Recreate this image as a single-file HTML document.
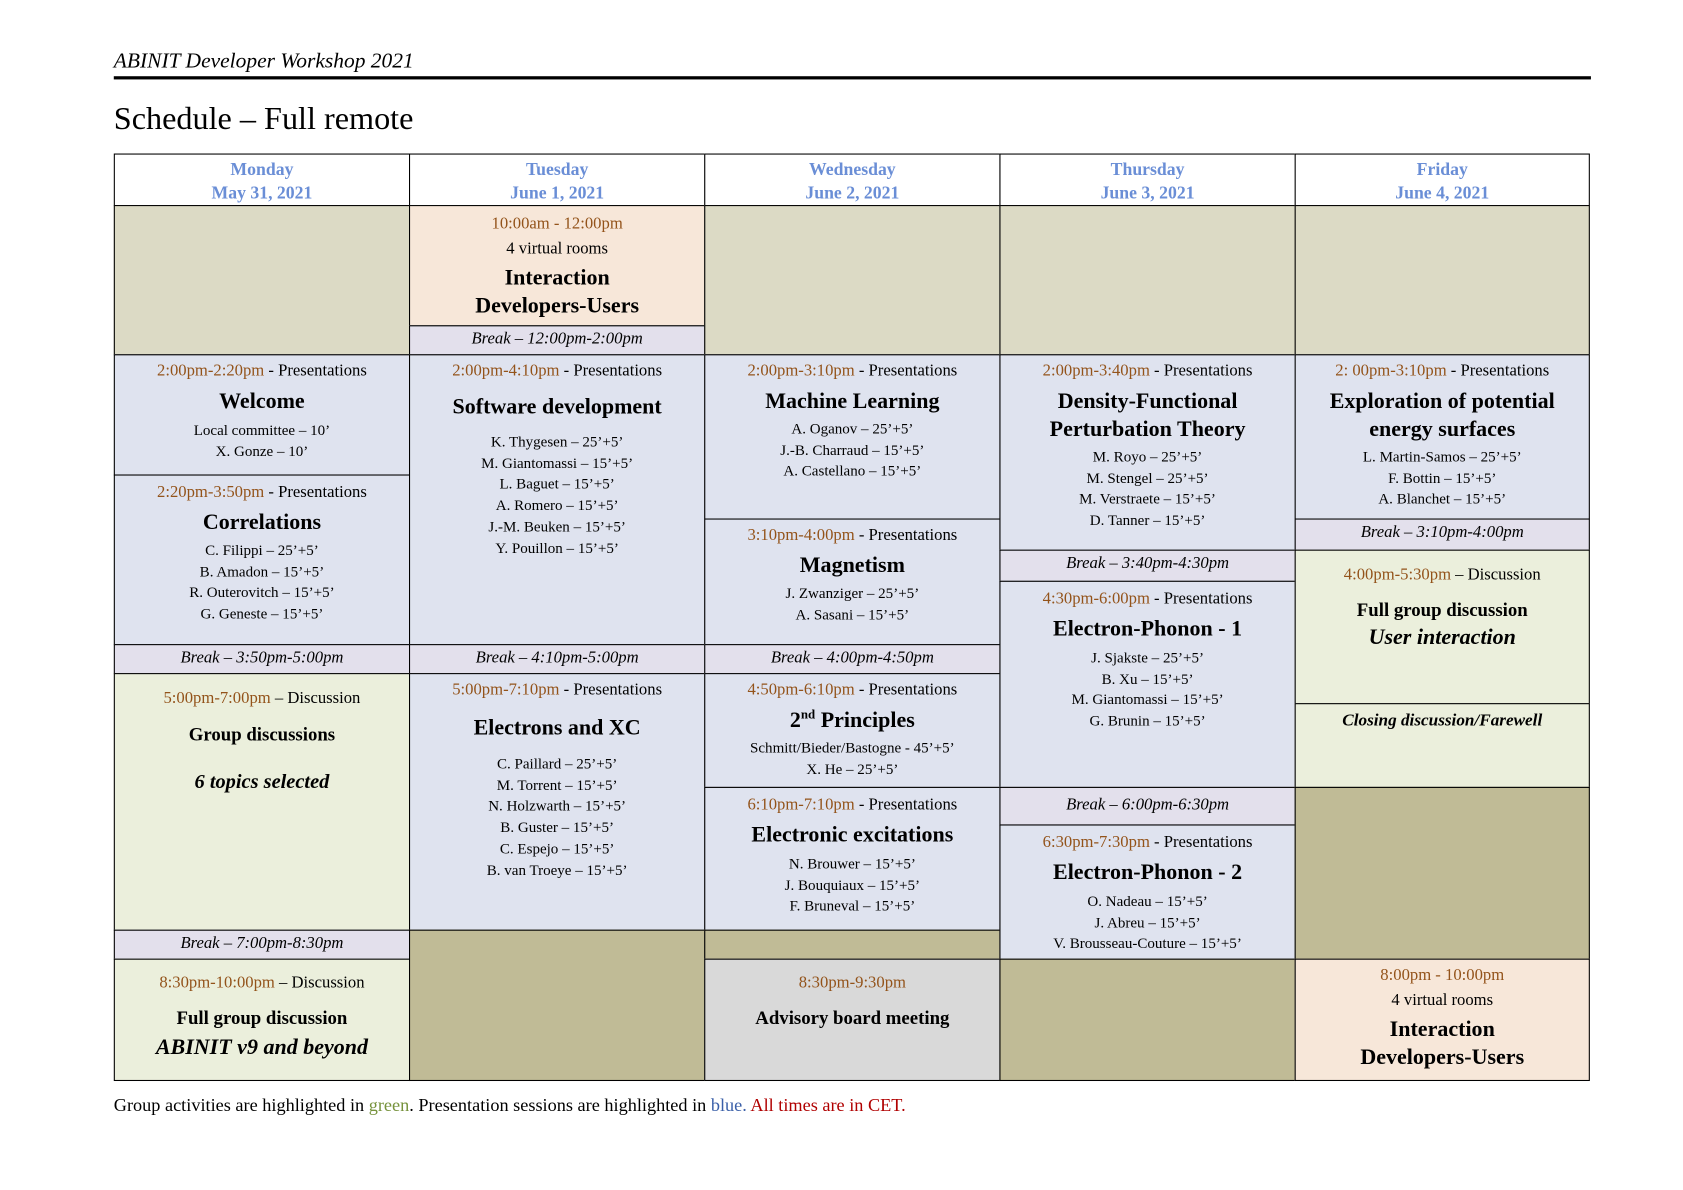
<!DOCTYPE html>
<html><head><meta charset="utf-8"><style>
html,body{margin:0;padding:0;background:#fff;}
body{width:1683px;height:1190px;overflow:hidden;position:relative;font-family:"Liberation Serif",serif;color:#000;}
#w{position:absolute;left:0;top:0;width:1560px;height:1103px;transform:scale(1.0735);transform-origin:0 0;}
.c{position:absolute;box-sizing:border-box;border:1.4px solid #000;text-align:center;overflow:hidden;}
.t{font-size:15.5px;line-height:20px;}
.tm{color:#93531a;}
.h{font-weight:bold;font-size:20.5px;line-height:26px;}
.n{font-size:14px;line-height:19.7px;}
.br{font-style:italic;font-size:15.5px;line-height:24px;background:#e3e0ec;}
.hd{color:#6a8ed6;font-weight:bold;font-size:16.5px;line-height:22px;padding-top:3px;background:#fff;}
.bei{background:#dcdac5}.ol{background:#c0bb96}.bl{background:#dfe3ef}.gr{background:#ebefdc}.pe{background:#f7e7d9}.gy{background:#d9d9d9}
</style></head><body><div id="w">
<div style="position:absolute;left:106px;top:46px;font-style:italic;font-size:20px;">ABINIT Developer Workshop 2021</div>
<div style="position:absolute;left:106px;top:71px;width:1376px;height:3px;background:#000"></div>
<div style="position:absolute;left:106px;top:94px;font-size:30px;">Schedule – Full remote</div>

<div class="c hd" style="left:106px;top:143px;width:276px;height:49px">Monday<br>May 31, 2021</div>
<div class="c hd" style="left:381px;top:143px;width:276px;height:49px">Tuesday<br>June 1, 2021</div>
<div class="c hd" style="left:656px;top:143px;width:276px;height:49px">Wednesday<br>June 2, 2021</div>
<div class="c hd" style="left:931px;top:143px;width:276px;height:49px">Thursday<br>June 3, 2021</div>
<div class="c hd" style="left:1206px;top:143px;width:275px;height:49px">Friday<br>June 4, 2021</div>

<div class="c bei" style="left:106px;top:191px;width:276px;height:140px"></div>
<div class="c bl" style="left:106px;top:330px;width:276px;height:113px;padding-top:5px"><div class="t"><span class="tm">2:00pm-2:20pm</span> - Presentations</div><div class="h" style="margin-top:5px">Welcome</div><div class="n" style="margin-top:5px">Local committee – 10’<br>X. Gonze – 10’</div></div>
<div class="c bl" style="left:106px;top:442px;width:276px;height:159px;padding-top:6px"><div class="t"><span class="tm">2:20pm-3:50pm</span> - Presentations</div><div class="h" style="margin-top:5px">Correlations</div><div class="n" style="margin-top:4px">C. Filippi – 25’+5’<br>B. Amadon – 15’+5’<br>R. Outerovitch – 15’+5’<br>G. Geneste – 15’+5’</div></div>
<div class="c br" style="left:106px;top:600px;width:276px;height:28px">Break – 3:50pm-5:00pm</div>
<div class="c gr" style="left:106px;top:627px;width:276px;height:240px;padding-top:13px"><div class="t"><span class="tm">5:00pm-7:00pm</span> – Discussion</div><div class="t" style="font-weight:bold;font-size:17.5px;margin-top:13px">Group discussions</div><div style="font-weight:bold;font-style:italic;font-size:19px;margin-top:24px">6 topics selected</div></div>
<div class="c br" style="left:106px;top:866px;width:276px;height:28px">Break – 7:00pm-8:30pm</div>
<div class="c gr" style="left:106px;top:893px;width:276px;height:114px;padding-top:12px"><div class="t"><span class="tm">8:30pm-10:00pm</span> – Discussion</div><div style="font-weight:bold;font-size:17.5px;margin-top:12px">Full group discussion</div><div style="font-weight:bold;font-style:italic;font-size:20.5px;margin-top:6px">ABINIT v9 and beyond</div></div>

<div class="c pe" style="left:381px;top:191px;width:276px;height:113px;padding-top:7px"><div class="t tm">10:00am - 12:00pm</div><div class="t" style="margin-top:3px">4 virtual rooms</div><div class="h" style="margin-top:4px">Interaction<br>Developers-Users</div></div>
<div class="c br" style="left:381px;top:303px;width:276px;height:28px">Break – 12:00pm-2:00pm</div>
<div class="c bl" style="left:381px;top:330px;width:276px;height:271px;padding-top:5px"><div class="t"><span class="tm">2:00pm-4:10pm</span> - Presentations</div><div class="h" style="margin-top:10px">Software development</div><div class="n" style="margin-top:11px">K. Thygesen – 25’+5’<br>M. Giantomassi – 15’+5’<br>L. Baguet – 15’+5’<br>A. Romero – 15’+5’<br>J.-M. Beuken – 15’+5’<br>Y. Pouillon – 15’+5’</div></div>
<div class="c br" style="left:381px;top:600px;width:276px;height:28px">Break – 4:10pm-5:00pm</div>
<div class="c bl" style="left:381px;top:627px;width:276px;height:240px;padding-top:5px"><div class="t"><span class="tm">5:00pm-7:10pm</span> - Presentations</div><div class="h" style="margin-top:12px">Electrons and XC</div><div class="n" style="margin-top:12px">C. Paillard – 25’+5’<br>M. Torrent – 15’+5’<br>N. Holzwarth – 15’+5’<br>B. Guster – 15’+5’<br>C. Espejo – 15’+5’<br>B. van Troeye – 15’+5’</div></div>
<div class="c ol" style="left:381px;top:866px;width:276px;height:141px"></div>

<div class="c bei" style="left:656px;top:191px;width:276px;height:140px"></div>
<div class="c bl" style="left:656px;top:330px;width:276px;height:154px;padding-top:5px"><div class="t"><span class="tm">2:00pm-3:10pm</span> - Presentations</div><div class="h" style="margin-top:5px">Machine Learning</div><div class="n" style="margin-top:4px">A. Oganov – 25’+5’<br>J.-B. Charraud – 15’+5’<br>A. Castellano – 15’+5’</div></div>
<div class="c bl" style="left:656px;top:483px;width:276px;height:118px;padding-top:5px"><div class="t"><span class="tm">3:10pm-4:00pm</span> - Presentations</div><div class="h" style="margin-top:5px">Magnetism</div><div class="n" style="margin-top:4px">J. Zwanziger – 25’+5’<br>A. Sasani – 15’+5’</div></div>
<div class="c br" style="left:656px;top:600px;width:276px;height:28px">Break – 4:00pm-4:50pm</div>
<div class="c bl" style="left:656px;top:627px;width:276px;height:107px;padding-top:5px"><div class="t"><span class="tm">4:50pm-6:10pm</span> - Presentations</div><div class="h" style="margin-top:5px">2<sup style="font-size:12px;line-height:0">nd</sup> Principles</div><div class="n" style="margin-top:4px">Schmitt/Bieder/Bastogne - 45’+5’<br>X. He – 25’+5’</div></div>
<div class="c bl" style="left:656px;top:733px;width:276px;height:134px;padding-top:6px"><div class="t"><span class="tm">6:10pm-7:10pm</span> - Presentations</div><div class="h" style="margin-top:5px">Electronic excitations</div><div class="n" style="margin-top:5px">N. Brouwer – 15’+5’<br>J. Bouquiaux – 15’+5’<br>F. Bruneval – 15’+5’</div></div>
<div class="c ol" style="left:656px;top:866px;width:276px;height:28px"></div>
<div class="c gy" style="left:656px;top:893px;width:276px;height:114px;padding-top:12px"><div class="t tm">8:30pm-9:30pm</div><div style="font-weight:bold;font-size:17.5px;margin-top:12px">Advisory board meeting</div></div>

<div class="c bei" style="left:931px;top:191px;width:276px;height:140px"></div>
<div class="c bl" style="left:931px;top:330px;width:276px;height:183px;padding-top:5px"><div class="t"><span class="tm">2:00pm-3:40pm</span> - Presentations</div><div class="h" style="margin-top:5px">Density-Functional<br>Perturbation Theory</div><div class="n" style="margin-top:4px">M. Royo – 25’+5’<br>M. Stengel – 25’+5’<br>M. Verstraete – 15’+5’<br>D. Tanner – 15’+5’</div></div>
<div class="c br" style="left:931px;top:512px;width:276px;height:30px">Break – 3:40pm-4:30pm</div>
<div class="c bl" style="left:931px;top:541px;width:276px;height:193px;padding-top:6px"><div class="t"><span class="tm">4:30pm-6:00pm</span> - Presentations</div><div class="h" style="margin-top:5px">Electron-Phonon - 1</div><div class="n" style="margin-top:5px">J. Sjakste – 25’+5’<br>B. Xu – 15’+5’<br>M. Giantomassi – 15’+5’<br>G. Brunin – 15’+5’</div></div>
<div class="c br" style="left:931px;top:733px;width:276px;height:36px;line-height:32px">Break – 6:00pm-6:30pm</div>
<div class="c bl" style="left:931px;top:768px;width:276px;height:126px;padding-top:6px"><div class="t"><span class="tm">6:30pm-7:30pm</span> - Presentations</div><div class="h" style="margin-top:5px">Electron-Phonon - 2</div><div class="n" style="margin-top:5px">O. Nadeau – 15’+5’<br>J. Abreu – 15’+5’<br>V. Brousseau-Couture – 15’+5’</div></div>
<div class="c ol" style="left:931px;top:893px;width:276px;height:114px"></div>

<div class="c bei" style="left:1206px;top:191px;width:275px;height:140px"></div>
<div class="c bl" style="left:1206px;top:330px;width:275px;height:154px;padding-top:5px"><div class="t"><span class="tm">2: 00pm-3:10pm</span> - Presentations</div><div class="h" style="margin-top:5px">Exploration of potential<br>energy surfaces</div><div class="n" style="margin-top:4px">L. Martin-Samos – 25’+5’<br>F. Bottin – 15’+5’<br>A. Blanchet – 15’+5’</div></div>
<div class="c br" style="left:1206px;top:483px;width:275px;height:30px">Break – 3:10pm-4:00pm</div>
<div class="c gr" style="left:1206px;top:512px;width:275px;height:144px;padding-top:13px"><div class="t"><span class="tm">4:00pm-5:30pm</span> – Discussion</div><div style="font-weight:bold;font-size:17.5px;margin-top:12px">Full group discussion</div><div style="font-weight:bold;font-style:italic;font-size:20.5px;margin-top:4px">User interaction</div></div>
<div class="c gr" style="left:1206px;top:655px;width:275px;height:79px;padding-top:7px"><div style="font-weight:bold;font-style:italic;font-size:16px">Closing discussion/Farewell</div></div>
<div class="c ol" style="left:1206px;top:733px;width:275px;height:161px"></div>
<div class="c pe" style="left:1206px;top:893px;width:275px;height:114px;padding-top:5px"><div class="t tm">8:00pm - 10:00pm</div><div class="t" style="margin-top:3px">4 virtual rooms</div><div class="h" style="margin-top:4px">Interaction<br>Developers-Users</div></div>

<div style="position:absolute;left:106px;top:1020px;font-size:17px;">Group activities are highlighted in <span style="color:#76923c">green</span>. Presentation sessions are highlighted in <span style="color:#3a5fa8">blue.</span> <span style="color:#b00000">All times are in CET.</span></div>
</div></body></html>
